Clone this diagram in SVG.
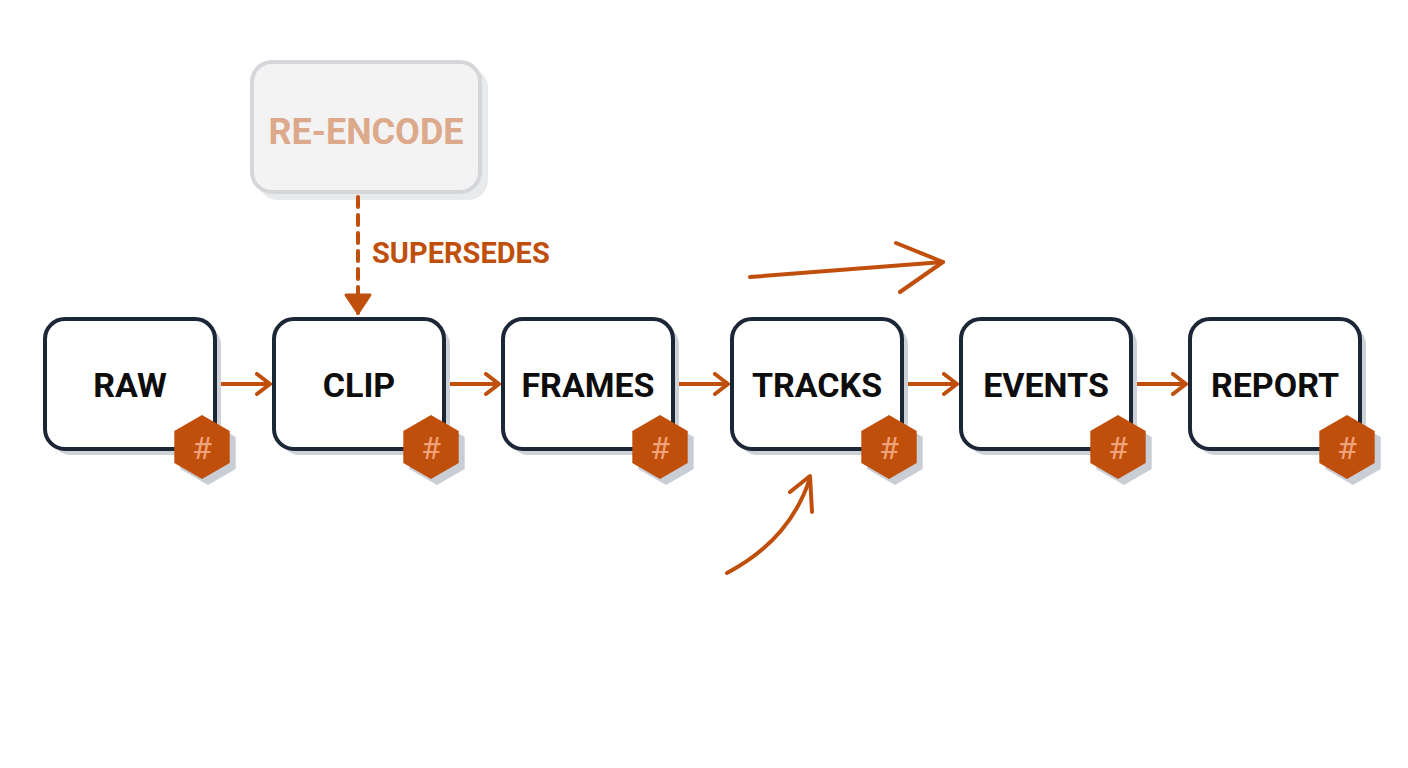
<svg xmlns="http://www.w3.org/2000/svg" width="1408" height="768" viewBox="0 0 1408 768">
<style>
.box{fill:#fff;stroke:#1b2636;stroke-width:4}
.sh{fill:#cdd2d9}
.lbl{font-family:Roboto,"Liberation Sans",sans-serif;font-weight:bold;font-size:34px;fill:#0d0d0d;text-anchor:middle}
.hex{fill:#c04f0c}
.hs{fill:#c9ced6}
.ht{font-family:Roboto,"Liberation Sans",sans-serif;font-size:32px;fill:#f0a27a;text-anchor:middle}
.c{stroke:#c04f0c;stroke-width:4;fill:none;stroke-linecap:round;stroke-linejoin:round}
</style>
<defs>
<marker id="ah" markerWidth="18" markerHeight="24" refX="14" refY="12" orient="auto" markerUnits="userSpaceOnUse" viewBox="0 0 18 24">
<path d="M2,2 L15,12 L2,22" fill="none" stroke="#c04f0c" stroke-width="4" stroke-linecap="round" stroke-linejoin="round"/>
</marker>
<polygon id="hx" points="0,-32 27.7,-16 27.7,16 0,32 -27.7,16 -27.7,-16"/>
</defs>
<g id="reencode">
<rect x="258" y="68" width="230" height="132" rx="20" fill="#e9eaec"/>
<rect x="252" y="62" width="228" height="130" rx="20" fill="#f3f3f3" stroke="#d4d6da" stroke-width="4"/>
<text x="366" y="144" font-family="Roboto,'Liberation Sans',sans-serif" font-weight="bold" font-size="36" fill="#dca98a" text-anchor="middle">RE-ENCODE</text>
</g>
<g id="connectors">
<line class="c" x1="358" y1="197" x2="358" y2="313" stroke-dasharray="10 8"/>
<path d="M346,295 L358,313 L370,295 Z" fill="#c04f0c" stroke="#c04f0c" stroke-width="3" stroke-linejoin="round"/>
<text x="372" y="263" font-family="Roboto,'Liberation Sans',sans-serif" font-weight="bold" font-size="29" fill="#c04f0c">SUPERSEDES</text>
<line class="c" x1="217" y1="384" x2="269" y2="384" marker-end="url(#ah)"/>
<line class="c" x1="446" y1="384" x2="498" y2="384" marker-end="url(#ah)"/>
<line class="c" x1="675" y1="384" x2="727" y2="384" marker-end="url(#ah)"/>
<line class="c" x1="904" y1="384" x2="956" y2="384" marker-end="url(#ah)"/>
<line class="c" x1="1133" y1="384" x2="1185" y2="384" marker-end="url(#ah)"/>
<path class="c" d="M750,277 L943,262"/>
<path class="c" d="M896,243 L943,262 L900,292"/>
<path class="c" d="M727,573 Q790,540 810,478"/>
<path class="c" d="M790,492 L810,476 L812,512"/>
</g>
<g id="raw"><rect class="sh" x="51" y="325" width="170" height="130" rx="20"/><rect class="box" x="45" y="319" width="170" height="130" rx="20"/><text class="lbl" x="130" y="397">RAW</text><use href="#hx" class="hs" x="208" y="453"/><use href="#hx" class="hex" x="202" y="447"/><text class="ht" x="202" y="459">#</text></g>
<g id="clip"><rect class="sh" x="280" y="325" width="170" height="130" rx="20"/><rect class="box" x="274" y="319" width="170" height="130" rx="20"/><text class="lbl" x="359" y="397">CLIP</text><use href="#hx" class="hs" x="437" y="453"/><use href="#hx" class="hex" x="431" y="447"/><text class="ht" x="431" y="459">#</text></g>
<g id="frames"><rect class="sh" x="509" y="325" width="170" height="130" rx="20"/><rect class="box" x="503" y="319" width="170" height="130" rx="20"/><text class="lbl" x="588" y="397">FRAMES</text><use href="#hx" class="hs" x="666" y="453"/><use href="#hx" class="hex" x="660" y="447"/><text class="ht" x="660" y="459">#</text></g>
<g id="tracks"><rect class="sh" x="738" y="325" width="170" height="130" rx="20"/><rect class="box" x="732" y="319" width="170" height="130" rx="20"/><text class="lbl" x="817" y="397">TRACKS</text><use href="#hx" class="hs" x="895" y="453"/><use href="#hx" class="hex" x="889" y="447"/><text class="ht" x="889" y="459">#</text></g>
<g id="events"><rect class="sh" x="967" y="325" width="170" height="130" rx="20"/><rect class="box" x="961" y="319" width="170" height="130" rx="20"/><text class="lbl" x="1046" y="397">EVENTS</text><use href="#hx" class="hs" x="1124" y="453"/><use href="#hx" class="hex" x="1118" y="447"/><text class="ht" x="1118" y="459">#</text></g>
<g id="report"><rect class="sh" x="1196" y="325" width="170" height="130" rx="20"/><rect class="box" x="1190" y="319" width="170" height="130" rx="20"/><text class="lbl" x="1275" y="397">REPORT</text><use href="#hx" class="hs" x="1353" y="453"/><use href="#hx" class="hex" x="1347" y="447"/><text class="ht" x="1347" y="459">#</text></g>
</svg>
